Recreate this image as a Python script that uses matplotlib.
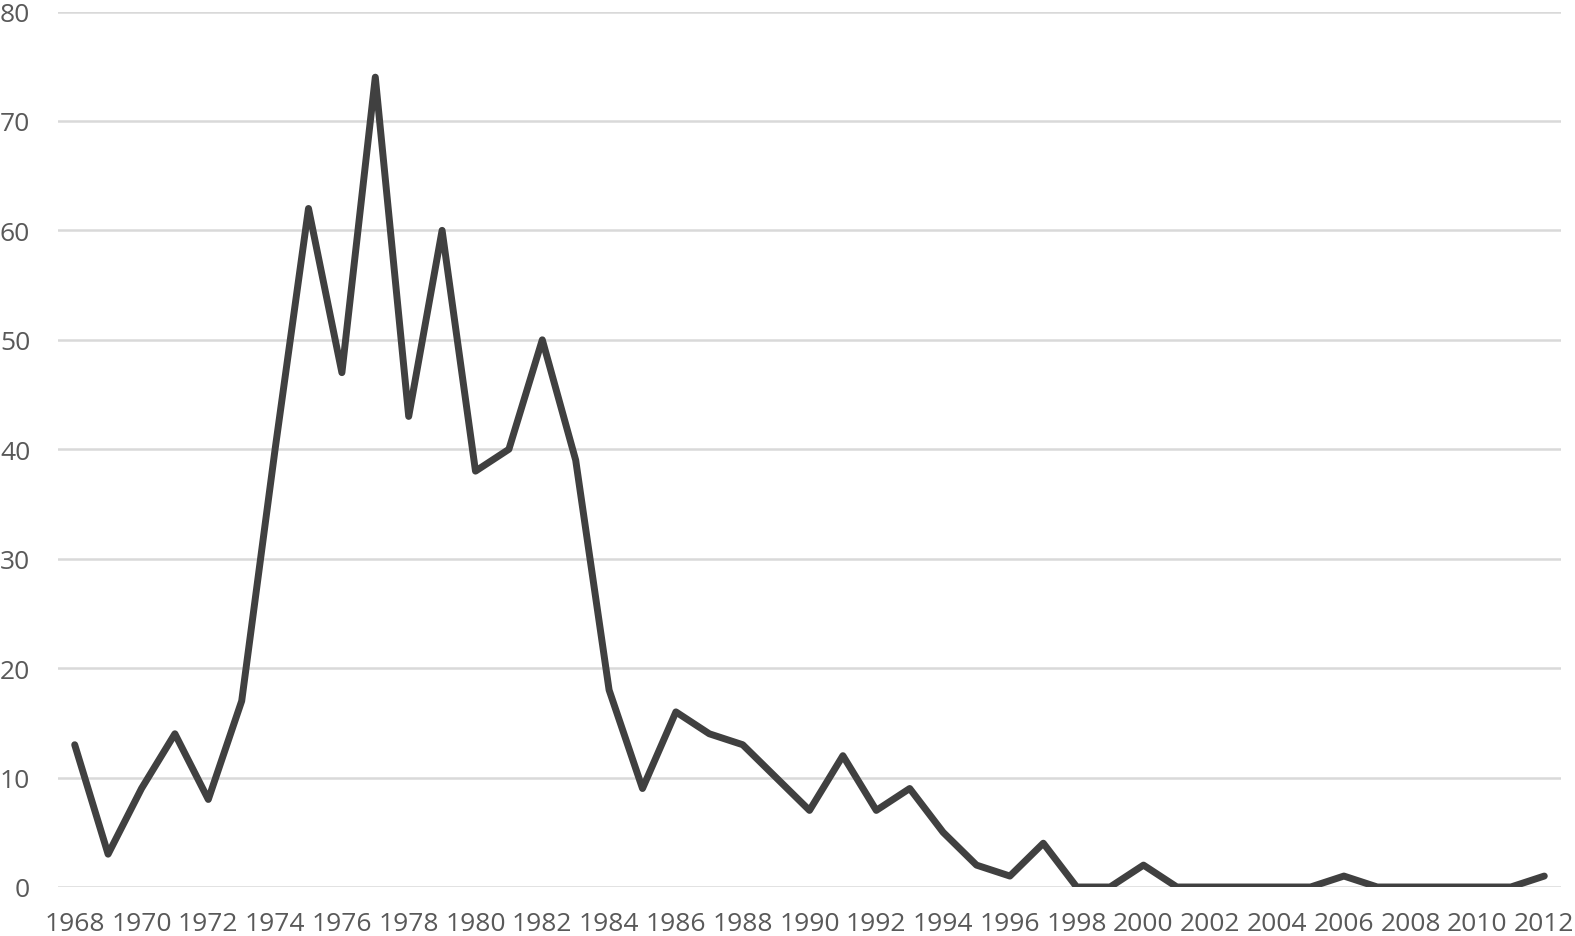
import matplotlib
matplotlib.use("Agg")
import matplotlib.pyplot as plt

years = list(range(1968, 2013))
values = [13, 3, 9, 14, 8, 17, 40, 62, 47, 74, 43, 60, 38, 40, 50, 39, 18, 9, 16, 14,
          13, 10, 7, 12, 7, 9, 5, 2, 1, 4, 0, 0, 2, 0, 0, 0, 0, 0, 1, 0, 0, 0, 0, 0, 1]
y_ticks = [0, 10, 20, 30, 40, 50, 60, 70, 80]

plt.rcParams['font.family'] = ['Open Sans', 'DejaVu Sans']
fig = plt.figure(figsize=(15.75, 9.37), dpi=100)
ax = fig.add_axes([58/1575, 1-888/937, (1561-58)/1575, (888-12.5)/937])

x = list(range(len(years)))
ax.plot(x, values, color='#404040', linewidth=5, solid_joinstyle='round', solid_capstyle='round', zorder=3)

ax.set_xlim(-0.5, len(years) - 0.5)
ax.set_ylim(0, 80)
ax.set_yticks(y_ticks)
ax.set_yticklabels([str(v) for v in y_ticks])
ax.set_xticks(x[::2])
ax.set_xticklabels([str(y) for y in years[::2]])
ax.grid(axis='y', color='#d9d9d9', linewidth=1.8)
ax.set_axisbelow(True)
for s in ax.spines.values():
    s.set_visible(False)
ax.tick_params(axis='both', length=0, labelsize=19, colors='#595959')
ax.tick_params(axis='y', pad=20)
ax.tick_params(axis='x', pad=17)

fig.savefig('out.png', dpi=100)
